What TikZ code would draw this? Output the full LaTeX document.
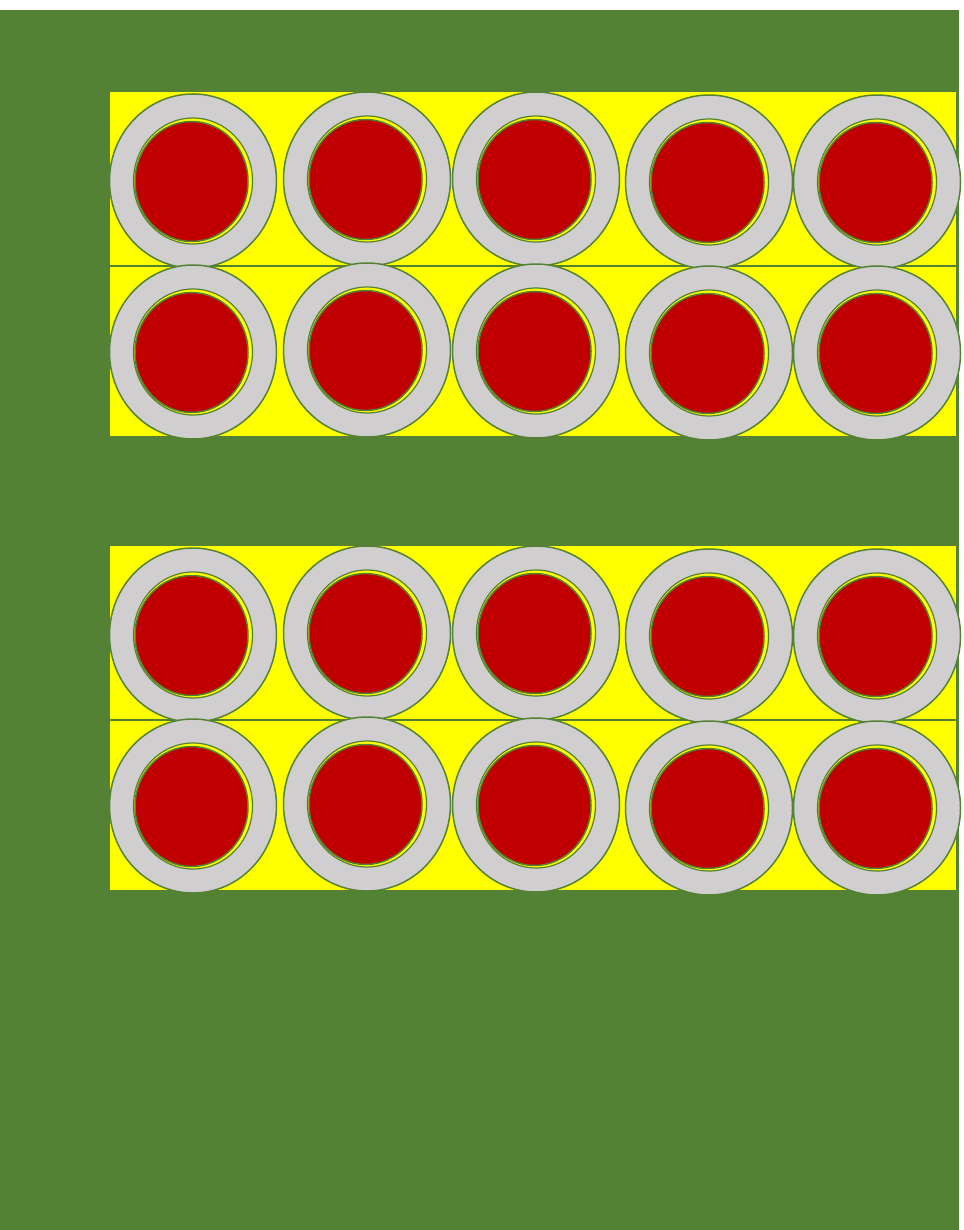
\documentclass[tikz,border=0pt]{standalone}
\usepackage{tikz}
\usetikzlibrary{shapes.geometric}
\definecolor{FieldGreen}{RGB}{84, 130, 53}
\definecolor{TrayYellow}{RGB}{255, 255, 0}
\definecolor{RingGray}{RGB}{208, 206, 206}
\definecolor{CoreRed}{RGB}{192, 0, 0}

\begin{document}
\begin{tikzpicture}[x=1pt, y=-1pt,
      ring/.style={ellipse, draw=FieldGreen, fill=RingGray, line width=1.5pt, inner sep=0pt,
      minimum width=167pt, minimum height=174pt},
      gap/.style={ellipse, draw=FieldGreen, fill=TrayYellow, line width=1.2pt, inner sep=0pt,
      minimum width=119pt, minimum height=126pt},
      core/.style={ellipse, draw=FieldGreen, fill=CoreRed, line width=1.5pt, inner sep=0pt,
      minimum width=113pt, minimum height=120pt},
      tray/.style={draw=FieldGreen, fill=TrayYellow, line width=1.5pt}
    ]
      \useasboundingbox (0,0) rectangle (963,1230);
      \fill[FieldGreen] (0,10) rectangle (959,1230);

      % trays
      \draw[tray] (109,91) rectangle (957,266);
      \draw[tray] (109,266) rectangle (957,437);
      \draw[tray] (109,545) rectangle (957,720);
      \draw[tray] (109,720) rectangle (957,891);

      % pellets
      \foreach \cx/\cy/\id in {193/181/a1, 367/179/a2, 536/179/a3, 709/182/a4, 877/182/a5,
                               193/352/b1, 367/350/b2, 536/351/b3, 709/353/b4, 877/353/b5,
                               193/635/c1, 367/633/c2, 536/633/c3, 709/636/c4, 877/636/c5,
                               193/806/d1, 367/804/d2, 536/805/d3, 709/808/d4, 877/808/d5} {
        \node[ring] (ring-\id) at (\cx,\cy) {};
        \node[gap] (gap-\id) at (ring-\id.center) {};
        \node[core, xshift=-1.5pt, yshift=-0.5pt] (core-\id) at (ring-\id.center) {};
      }
    \end{tikzpicture}
\end{document}
